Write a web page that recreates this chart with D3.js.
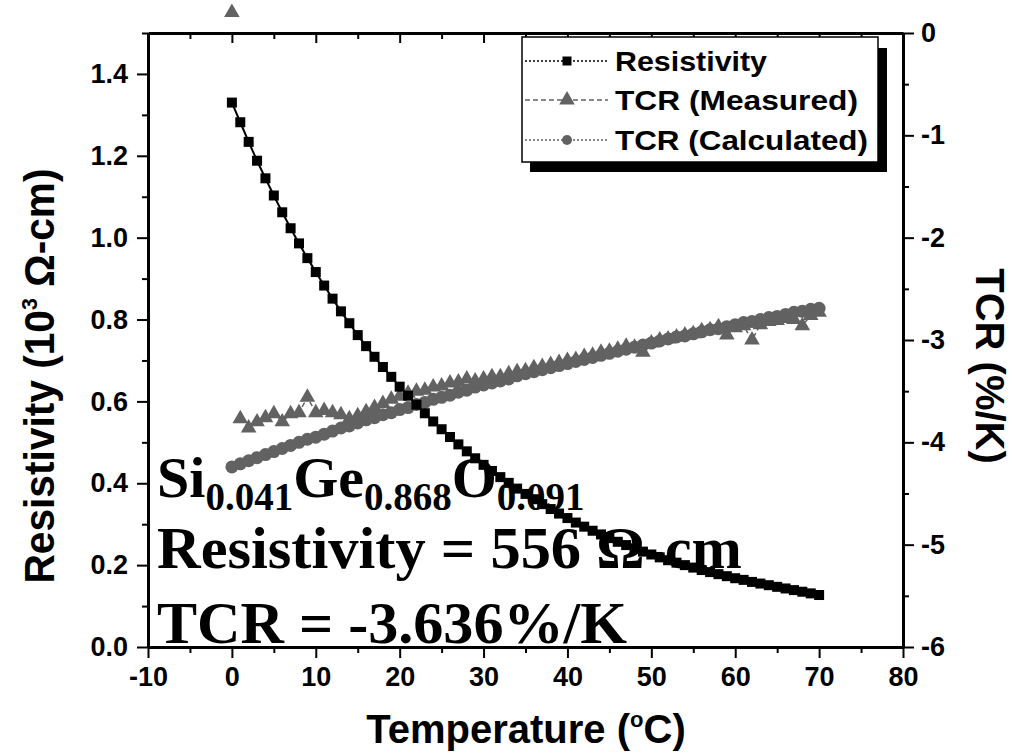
<!DOCTYPE html>
<html>
<head>
<meta charset="utf-8">
<script src="https://cdn.jsdelivr.net/npm/d3@7"></script>
<style>
body { margin: 0; background: #fff; }
svg { display: block; }
</style>
</head>
<body>
<div id="plot"></div>
<script>
// values
var temperature = [0,1,2,3,4,5,6,7,8,9,10,11,12,13,14,15,16,17,18,19,20,21,22,23,24,25,26,27,28,29,30,
  31,32,33,34,35,36,37,38,39,40,41,42,43,44,45,46,47,48,49,50,51,52,53,54,55,56,57,58,59,60,
  61,62,63,64,65,66,67,68,69,70];

// resistivity (10^3 ohm-cm)
var resistivity = [1.330,1.282,1.234,1.188,1.145,1.103,1.062,1.023,0.986,0.950,0.916,0.883,0.851,0.820,0.791,
  0.762,0.735,0.709,0.684,0.660,0.636,0.614,0.592,0.571,0.551,0.532,0.513,0.495,0.478,0.461,0.445,
  0.430,0.415,0.401,0.387,0.374,0.361,0.349,0.337,0.326,0.315,0.304,0.294,0.284,0.275,0.266,0.257,
  0.249,0.241,0.233,0.226,0.219,0.212,0.206,0.200,0.194,0.188,0.183,0.178,0.173,0.168,0.164,0.159,
  0.155,0.151,0.147,0.143,0.139,0.135,0.131,0.127];

// TCR measured (%/K) - first point is the stray one above the frame
var tcrMeasured = [0.20,-3.77,-3.86,-3.80,-3.76,-3.72,-3.80,-3.72,-3.71,-3.56,-3.71,-3.69,-3.71,-3.73,-3.77,
  -3.74,-3.70,-3.66,-3.62,-3.58,-3.55,-3.52,-3.50,-3.49,-3.46,-3.45,-3.42,-3.41,-3.38,-3.40,-3.38,
  -3.36,-3.36,-3.33,-3.31,-3.30,-3.27,-3.26,-3.24,-3.22,-3.20,-3.19,-3.16,-3.15,-3.12,-3.11,-3.09,
  -3.06,-3.07,-3.12,-3.03,-3.00,-2.99,-2.97,-2.95,-2.94,-2.91,-2.90,-2.87,-2.95,-2.88,-2.86,-3.00,
  -2.85,-2.82,-2.81,-2.79,-2.80,-2.86,-2.76,-2.73];

// TCR calculated (%/K)
var tcrCalculated = [-4.24,-4.21,-4.18,-4.15,-4.12,-4.09,-4.06,-4.03,-4.00,-3.97,-3.95,-3.92,-3.89,-3.86,-3.84,
  -3.81,-3.78,-3.76,-3.73,-3.71,-3.68,-3.66,-3.63,-3.61,-3.58,-3.56,-3.54,-3.51,-3.49,-3.46,-3.44,
  -3.42,-3.40,-3.38,-3.35,-3.33,-3.31,-3.29,-3.27,-3.25,-3.23,-3.21,-3.19,-3.17,-3.15,-3.13,-3.11,
  -3.09,-3.07,-3.05,-3.03,-3.01,-2.99,-2.97,-2.96,-2.94,-2.92,-2.90,-2.89,-2.87,-2.85,-2.83,-2.82,
  -2.80,-2.78,-2.77,-2.75,-2.73,-2.72,-2.70,-2.69];

var xTicks = [-10,0,10,20,30,40,50,60,70,80];
var xMinor = [-5,5,15,25,35,45,55,65,75];
var leftTicks = [0.0,0.2,0.4,0.6,0.8,1.0,1.2,1.4];
var leftMinor = [0.1,0.3,0.5,0.7,0.9,1.1,1.3,1.5];
var rightTicks = [0,-1,-2,-3,-4,-5,-6];
var rightMinor = [-0.5,-1.5,-2.5,-3.5,-4.5,-5.5];
var legendNames = ["Resistivity", "TCR (Measured)", "TCR (Calculated)"];

//setup
var width = 1012, height = 755;
var sans = "'Liberation Sans', Arial, sans-serif";
var serif = "'Liberation Serif', 'Times New Roman', serif";
var gray = "#626262";

var svg = d3.select("#plot").append("svg")
  .attr("width", width)
  .attr("height", height);

var x = d3.scaleLinear().domain([-10, 80]).range([148, 903]);
var yL = d3.scaleLinear().domain([0, 1.5]).range([647, 33]);
var yR = d3.scaleLinear().domain([-6, 0]).range([647, 33]);

var rows = temperature.map(function (t, i) {
  return { t: t, r: resistivity[i], m: tcrMeasured[i], c: tcrCalculated[i] };
});

//composition text (sits under the data)
var comp = svg.append("text")
  .attr("x", 157).attr("y", 497)
  .attr("font-family", serif).attr("font-weight", "bold")
  .attr("font-size", 58);
comp.append("tspan").text("Si");
comp.append("tspan").attr("font-size", 39).attr("dy", 13).text("0.041");
comp.append("tspan").attr("dy", -13).text("Ge");
comp.append("tspan").attr("font-size", 39).attr("dy", 13).text("0.868");
comp.append("tspan").attr("dy", -13).text("O");
comp.append("tspan").attr("font-size", 39).attr("dy", 13).text("0.091");

svg.append("text")
  .attr("x", 157).attr("y", 568)
  .attr("font-family", serif).attr("font-weight", "bold")
  .attr("font-size", 60)
  .attr("textLength", 585).attr("lengthAdjust", "spacingAndGlyphs")
  .text("Resistivity = 556 \u03A9-cm");

svg.append("text")
  .attr("x", 157).attr("y", 643)
  .attr("font-family", serif).attr("font-weight", "bold")
  .attr("font-size", 60)
  .attr("textLength", 470).attr("lengthAdjust", "spacingAndGlyphs")
  .text("TCR = -3.636%/K");

//data
var inFrame = function (d) { return d.m <= 0; };

svg.append("path")
  .datum(rows)
  .attr("fill", "none").attr("stroke", gray).attr("stroke-width", 1.5)
  .attr("stroke-dasharray", "2,2")
  .attr("d", d3.line().x(function (d) { return x(d.t); }).y(function (d) { return yR(d.c); }));

svg.selectAll(".calc").data(rows).enter().append("circle")
  .attr("class", "calc")
  .attr("cx", function (d) { return x(d.t); })
  .attr("cy", function (d) { return yR(d.c); })
  .attr("r", 6.5)
  .attr("fill", gray);

svg.append("path")
  .datum(rows.filter(inFrame))
  .attr("fill", "none").attr("stroke", gray).attr("stroke-width", 1.5)
  .attr("stroke-dasharray", "5,3")
  .attr("d", d3.line().x(function (d) { return x(d.t); }).y(function (d) { return yR(d.m); }));

var tri = d3.symbol().type(d3.symbolTriangle).size(105);
svg.selectAll(".meas").data(rows).enter().append("path")
  .attr("class", "meas")
  .attr("transform", function (d) { return "translate(" + x(d.t) + "," + yR(d.m) + ")"; })
  .attr("d", tri)
  .attr("fill", gray);

svg.append("path")
  .datum(rows)
  .attr("fill", "none").attr("stroke", "#000").attr("stroke-width", 2)
  .attr("d", d3.line().x(function (d) { return x(d.t); }).y(function (d) { return yL(d.r); }));

svg.selectAll(".res").data(rows).enter().append("rect")
  .attr("class", "res")
  .attr("x", function (d) { return x(d.t) - 5; })
  .attr("y", function (d) { return yL(d.r) - 5; })
  .attr("width", 10).attr("height", 10)
  .attr("fill", "#000");

//axes
function styleAxis(g, size) {
  g.selectAll("path.domain").attr("stroke", "#000").attr("stroke-width", 3);
  g.selectAll(".tick line").attr("stroke", "#000").attr("stroke-width", 2);
  g.selectAll("text")
    .attr("font-family", sans).attr("font-weight", "bold")
    .attr("font-size", size).attr("fill", "#000");
}
function noDomain(g) { g.select(".domain").remove(); styleAxis(g, 1); }

var gBottom = svg.append("g").attr("transform", "translate(0,647)")
  .call(d3.axisBottom(x).tickValues(xTicks).tickSize(11).tickSizeOuter(0).tickPadding(9)
    .tickFormat(function (d) { return String(d); }));
styleAxis(gBottom, 27);
svg.append("g").attr("transform", "translate(0,647)")
  .call(d3.axisBottom(x).tickValues(xMinor).tickSize(6).tickFormat(""))
  .call(noDomain);

var gTop = svg.append("g").attr("transform", "translate(0,33)")
  .call(d3.axisTop(x).tickValues(xTicks).tickSize(-10).tickSizeOuter(0).tickFormat(""));
styleAxis(gTop, 1);
svg.append("g").attr("transform", "translate(0,33)")
  .call(d3.axisTop(x).tickValues(xMinor).tickSize(-6).tickFormat(""))
  .call(noDomain);

var gLeft = svg.append("g").attr("transform", "translate(148,0)")
  .call(d3.axisLeft(yL).tickValues(leftTicks).tickSize(11).tickSizeOuter(0).tickPadding(9)
    .tickFormat(d3.format(".1f")));
styleAxis(gLeft, 27);
svg.append("g").attr("transform", "translate(148,0)")
  .call(d3.axisLeft(yL).tickValues(leftMinor).tickSize(6).tickFormat(""))
  .call(noDomain);

var gRight = svg.append("g").attr("transform", "translate(903,0)")
  .call(d3.axisRight(yR).tickValues(rightTicks).tickSize(11).tickSizeOuter(0).tickPadding(7)
    .tickFormat(function (d) { return String(d); }));
styleAxis(gRight, 27);
svg.append("g").attr("transform", "translate(903,0)")
  .call(d3.axisRight(yR).tickValues(rightMinor).tickSize(6).tickFormat(""))
  .call(noDomain);

//axis titles
var xt = svg.append("text")
  .attr("x", 526).attr("y", 743)
  .attr("text-anchor", "middle")
  .attr("font-family", sans).attr("font-weight", "bold").attr("font-size", 40)
  .text("Temperature (");
xt.append("tspan").attr("font-size", 22).attr("dy", -16).text("o");
xt.append("tspan").attr("dy", 16).text("C)");

var yt = svg.append("text")
  .attr("transform", "translate(54,376) rotate(-90)")
  .attr("text-anchor", "middle")
  .attr("font-family", sans).attr("font-weight", "bold").attr("font-size", 42)
  .attr("textLength", 415).attr("lengthAdjust", "spacingAndGlyphs")
  .text("Resistivity (10");
yt.append("tspan").attr("font-size", 22).attr("dy", -17).text("3");
yt.append("tspan").attr("dy", 17).text(" \u03A9-cm)");

svg.append("text")
  .attr("transform", "translate(976,366) rotate(90)")
  .attr("text-anchor", "middle")
  .attr("font-family", sans).attr("font-weight", "bold").attr("font-size", 40)
  .text("TCR (%/K)");

//legend
var legend = svg.append("g");
legend.append("rect").attr("x", 530).attr("y", 48).attr("width", 357).attr("height", 124).attr("fill", "#000");
legend.append("rect").attr("x", 522).attr("y", 37).attr("width", 356).attr("height", 125)
  .attr("fill", "#fff").attr("stroke", "#000").attr("stroke-width", 1.5);

var legendRowY = [61, 100, 140];
var legendTextLen = [152, 243, 253];
var legendDash = ["2,2", "5,3", "2,2"];
legendNames.forEach(function (name, i) {
  var cy = legendRowY[i];
  legend.append("line")
    .attr("x1", 525).attr("x2", 608).attr("y1", cy).attr("y2", cy)
    .attr("stroke", i === 0 ? "#000" : gray).attr("stroke-width", 1.5)
    .attr("stroke-dasharray", legendDash[i]);
  if (i === 0) {
    legend.append("rect").attr("x", 562.5).attr("y", cy - 4.5).attr("width", 9).attr("height", 9).attr("fill", "#000");
  } else if (i === 1) {
    legend.append("path").attr("transform", "translate(567," + cy + ")").attr("d", tri).attr("fill", gray);
  } else {
    legend.append("circle").attr("cx", 567).attr("cy", cy).attr("r", 5).attr("fill", gray);
  }
  legend.append("text")
    .attr("x", 615).attr("y", cy + 10)
    .attr("font-family", sans).attr("font-weight", "bold").attr("font-size", 28)
    .attr("textLength", legendTextLen[i]).attr("lengthAdjust", "spacingAndGlyphs")
    .text(name);
});
</script>
</body>
</html>
